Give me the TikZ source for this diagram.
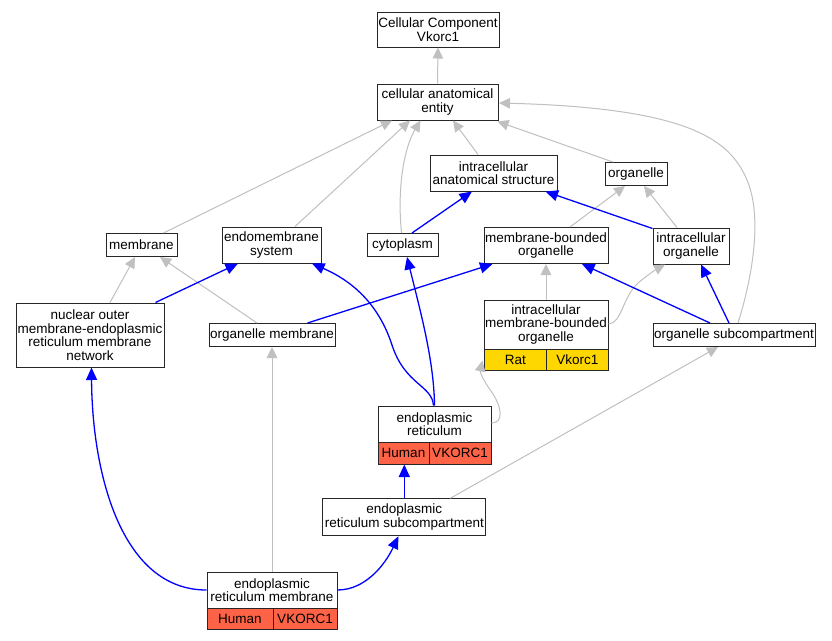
\documentclass[tikz,border=0pt]{standalone}
\usepackage{fontspec}
\setmainfont{Liberation Sans}
\usetikzlibrary{arrows.meta,calc}
\definecolor{edgegrey}{HTML}{C0C0C0}
\definecolor{ratgold}{HTML}{FFD700}
\definecolor{humantomato}{HTML}{FF6347}
\tikzset{
  box/.style={draw=black!85, line width=1pt, fill=white, inner sep=0pt, align=center,
    font=\fontsize{13.5}{13.6}\selectfont},
  cell/.style={box},
  isa/.style={draw=edgegrey, line width=1pt, -{Triangle[length=11pt,width=10.5pt]}},
  partof/.style={draw=blue, line width=1.3pt, -{Triangle[length=12.5pt,width=11pt]}},
}
\begin{document}
\begin{tikzpicture}[x=1pt,y=-1pt]
\useasboundingbox[fill=white] (0,0) rectangle (832,640);
% nodes
\node[box, minimum width=122pt, minimum height=35pt] (cc) at (438,29.5) {Cellular Component\\Vkorc1};
\node[box, minimum width=121pt, minimum height=36pt] (cae) at (437.5,102) {cellular anatomical\\entity};
\node[box, minimum width=127pt, minimum height=36pt] (ias) at (493.5,173) {intracellular\\anatomical structure};
\node[box, minimum width=62pt, minimum height=23pt] (org) at (636,174) {organelle};
\node[box, minimum width=71pt, minimum height=23pt] (mem) at (141.5,245) {membrane};
\node[box, minimum width=99pt, minimum height=36pt] (ems) at (271.5,245) {endomembrane\\system};
\node[box, minimum width=71pt, minimum height=23pt] (cyt) at (402.5,245) {cytoplasm};
\node[box, minimum width=124pt, minimum height=36pt] (mbo) at (546,245.5) {membrane-bounded\\organelle};
\node[box, minimum width=76pt, minimum height=36pt] (io) at (691,246) {intracellular\\organelle};
\node[box, minimum width=148pt, minimum height=64pt] (nuc) at (90,335) {nuclear outer\\membrane-endoplasmic\\reticulum membrane\\network};
\node[box, minimum width=126pt, minimum height=23pt] (om) at (272,335) {organelle membrane};
\node[box, minimum width=162pt, minimum height=23pt] (os) at (734,335) {organelle subcompartment};
% intracellular membrane-bounded organelle (Rat)
\node[box, minimum width=124pt, minimum height=49pt] (imbo) at (546,324.5) {intracellular\\membrane-bounded\\organelle};
\node[cell, fill=ratgold, minimum width=62.5pt, minimum height=21pt] (imboA) at (515.25,359.5) {Rat};
\node[cell, fill=ratgold, minimum width=61.5pt, minimum height=21pt] (imboB) at (577.25,359.5) {Vkorc1};
% endoplasmic reticulum (Human)
\node[box, minimum width=113pt, minimum height=36pt] (er) at (434.5,424) {endoplasmic\\reticulum};
\node[cell, fill=humantomato, minimum width=51pt, minimum height=22pt] (erA) at (403.5,453) {Human};
\node[cell, fill=humantomato, minimum width=62pt, minimum height=22pt] (erB) at (460,453) {VKORC1};
\node[box, minimum width=163pt, minimum height=37pt] (ers) at (404.3,517.3) {endoplasmic\\reticulum subcompartment};
% endoplasmic reticulum membrane (Human)
\node[box, minimum width=130pt, minimum height=36pt] (erm) at (272,590) {endoplasmic\\reticulum membrane};
\node[cell, fill=humantomato, minimum width=66pt, minimum height=21pt] (ermA) at (240,618.5) {Human};
\node[cell, fill=humantomato, minimum width=64pt, minimum height=21pt] (ermB) at (305,618.5) {VKORC1};

% grey is_a edges
\draw[isa] (cae.north) -- (cc.south);
\draw[isa] ($(ias.north)+(-15.5,0)$) -- ($(cae.south)+(15.5,0)$);
\draw[isa] ($(org.north)+(-23,0)$) -- ($(cae.south east)+(-1,1)$);
\draw[isa] ($(mem.north east)+(-14,0)$) -- ($(cae.south)+(-45.5,0)$);
\draw[isa] ($(ems.north)+(23.5,0)$) -- ($(cae.south)+(-27.5,0)$);
\draw[isa] ($(cyt.north)+(-1,0)$) .. controls (397,188) and (404,148) .. ($(cae.south)+(-17,0)$);
\draw[isa] ($(os.north)+(4,0)$) .. controls (750,285) and (764,220) .. (747,180)
   .. controls (730,140) and (690,108) .. ($(cae.east)+(0.5,1)$);
\draw[isa] ($(mbo.north)+(24,0)$) -- ($(org.south)+(-11,0)$);
\draw[isa] ($(io.north)+(-14,0)$) -- ($(org.south)+(8,0)$);
\draw[isa] (imbo.north) -- (mbo.south);
\draw[isa] ($(imbo.east)+(0,-0.5)$) .. controls (622,323) and (622,298) .. (638,283)
   .. controls (645,277) and (655,270) .. ($(io.south)+(-26,0)$);
\draw[isa] ($(nuc.north)+(20,0)$) -- ($(mem.south)+(-6.5,0)$);
\draw[isa] ($(om.north)+(-15,0)$) -- ($(mem.south)+(18.5,0)$);
\draw[isa] (erm.north) -- (om.south);
\draw[isa] ($(er.east)+(0,-1)$) .. controls (505,423) and (501,405) .. (491,391)
   .. controls (483,380) and (480,372) .. ($(imboA.west)+(-1,1)$);
\draw[isa] ($(ers.north)+(46,0)$) -- ($(os.south)+(-16,0)$);

% blue part_of edges
\draw[partof] ($(cyt.north)+(9.5,0)$) -- ($(ias.south)+(-21.5,0)$);
\draw[partof] ($(io.north west)+(0,1)$) -- ($(ias.south east)+(-12,0)$);
\draw[partof] ($(nuc.north east)+(-9,0)$) -- ($(ems.south)+(-33.5,0)$);
\draw[partof] ($(om.north east)+(-28,0)$) -- ($(mbo.south west)+(9,0)$);
\draw[partof] ($(os.north)+(-24,0)$) -- ($(mbo.south)+(36,0)$);
\draw[partof] ($(os.north)+(-5,0)$) -- ($(io.south)+(10,0)$);
\draw[partof] ($(er.north)+(-1,0)$) .. controls (432,385) and (405,385) .. (392,345)
   .. controls (378,302) and (350,280) .. ($(ems.south east)+(-9.5,0)$);
\draw[partof] (er.north) .. controls (434,360) and (420,310) .. ($(cyt.south)+(4.5,0)$);
\draw[partof] (ers.north |- ers.north) -- (ers.north |- erA.south);
\draw[partof] (erm.west) .. controls (120,590) and (92,470) .. ($(nuc.south)+(1.5,0)$);
\draw[partof] (erm.east) .. controls (365,590) and (385,565) .. ($(ers.south)+(-6,0)$);
\end{tikzpicture}
\end{document}
